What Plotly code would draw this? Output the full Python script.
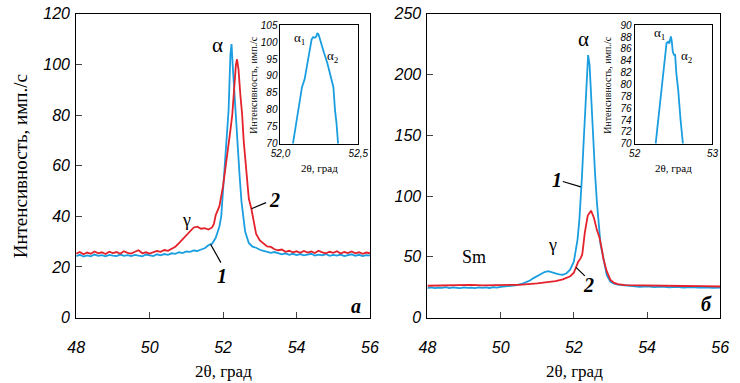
import plotly.graph_objects as go

# ---------------- data ----------------
# Panel a, curve 1 (blue)
a1_x = [48.0, 48.1, 48.2, 48.3, 48.4, 48.5, 48.6, 48.7, 48.8, 48.9, 49.0, 49.1, 49.2, 49.3, 49.4, 49.5,
        49.6, 49.7, 49.8, 49.9, 50.0, 50.1, 50.2, 50.3, 50.4, 50.5, 50.6, 50.7, 50.8, 50.9, 51.0, 51.1,
        51.2, 51.3, 51.4, 51.5, 51.6, 51.7, 51.8, 51.9, 51.95, 52.0, 52.05, 52.1, 52.15, 52.2, 52.23,
        52.26, 52.3, 52.35, 52.4, 52.45, 52.5, 52.55, 52.6, 52.7, 52.8, 52.9, 53.0, 53.1, 53.2, 53.3,
        53.4, 53.5, 53.6, 53.7, 53.8, 53.9, 54.0, 54.1, 54.2, 54.3, 54.4, 54.5, 54.6, 54.7, 54.8, 54.9,
        55.0, 55.1, 55.2, 55.3, 55.4, 55.5, 55.6, 55.7, 55.8, 55.9, 56.0]
a1_y = [24.3, 24.8, 24.1, 24.6, 24.2, 24.9, 24.4, 24.7, 24.2, 24.8, 24.5, 24.3, 24.9, 24.4, 24.7, 24.3,
        24.8, 24.5, 24.2, 24.9, 24.6, 24.3, 25.0, 24.6, 25.1, 24.8, 25.4, 25.2, 25.8, 25.5, 26.1, 26.0,
        26.5, 26.3, 26.9, 27.4, 28.6, 29.2, 31.5, 36.0, 40.0, 50.0, 58.0, 70.0, 82.0, 104.0, 108.0,
        100.0, 90.0, 82.0, 66.0, 56.0, 46.0, 39.0, 34.0, 29.5, 28.0, 27.6, 26.8, 26.4, 26.0, 25.6,
        25.9, 25.3, 25.0, 25.4, 24.8, 25.2, 24.7, 25.1, 24.6, 24.9, 25.2, 24.5, 24.9, 24.6, 25.1, 24.4,
        24.8, 24.5, 24.9, 24.3, 24.7, 25.0, 24.4, 24.8, 24.3, 24.7, 24.5]
# Panel a, curve 2 (red)
a2_x = [48.0, 48.1, 48.2, 48.3, 48.4, 48.5, 48.6, 48.7, 48.8, 48.9, 49.0, 49.1, 49.2, 49.3, 49.4, 49.5,
        49.6, 49.7, 49.8, 49.9, 50.0, 50.1, 50.2, 50.3, 50.4, 50.5, 50.6, 50.7, 50.8, 50.9, 51.0, 51.1,
        51.2, 51.3, 51.4, 51.5, 51.6, 51.7, 51.75, 51.8, 51.9, 52.0, 52.1, 52.2, 52.25, 52.3, 52.35,
        52.38, 52.42, 52.47, 52.52, 52.56, 52.6, 52.65, 52.7, 52.77, 52.85, 52.9, 53.0, 53.1, 53.2,
        53.3, 53.4, 53.5, 53.6, 53.7, 53.8, 53.9, 54.0, 54.1, 54.2, 54.3, 54.4, 54.5, 54.6, 54.7, 54.8,
        54.9, 55.0, 55.1, 55.2, 55.3, 55.4, 55.5, 55.6, 55.7, 55.8, 55.9, 56.0]
a2_y = [25.3, 25.9, 25.0, 25.7, 25.2, 26.1, 25.4, 25.8, 25.1, 26.0, 25.5, 25.9, 25.2, 26.2, 25.6, 25.3,
        26.0, 26.6, 25.4, 25.8, 25.3, 25.9, 26.3, 26.0, 26.7, 26.4, 27.3, 28.0, 29.4, 30.9, 32.6, 34.2,
        35.6, 35.9, 35.1, 35.3, 34.8, 35.6, 37.0, 40.5, 44.0, 52.0, 62.0, 74.0, 80.0, 92.0, 100.0,
        102.0, 98.0, 88.0, 80.0, 70.0, 63.0, 54.0, 47.0, 43.0, 37.0, 33.0, 30.5, 29.2, 28.1,
        27.9, 27.0, 26.6, 26.9, 26.0, 26.4, 25.8, 26.2, 25.6, 26.3, 25.7, 26.1, 25.5, 26.4, 25.8, 25.4,
        26.0, 25.6, 26.2, 25.3, 25.9, 25.5, 26.1, 25.4, 25.8, 25.2, 25.7, 25.4]
# Panel б, curve 1 (blue)
b1_x = [48.0, 48.1, 48.2, 48.3, 48.4, 48.5, 48.6, 48.7, 48.8, 48.9, 49.0, 49.1, 49.2, 49.3, 49.4, 49.5,
        49.6, 49.7, 49.8, 49.9, 50.0, 50.2, 50.4, 50.6, 50.8, 50.9, 51.0, 51.1, 51.2, 51.3, 51.4, 51.5,
        51.6, 51.7, 51.8, 51.9, 52.0, 52.05, 52.1, 52.15, 52.2, 52.22, 52.26, 52.3, 52.35, 52.39,
        52.43, 52.48, 52.53, 52.58, 52.63, 52.68, 52.73, 52.8, 52.85, 52.9, 53.0, 53.1, 53.2, 53.3,
        53.4, 53.6, 53.8, 54.0, 54.2, 54.4, 54.6, 54.8, 55.0, 55.2, 55.4, 55.6, 55.8, 56.0]
b1_y = [24.3, 24.9, 24.2, 24.7, 24.4, 25.0, 24.3, 24.8, 24.5, 24.2, 24.9, 24.4, 24.7, 24.3, 24.8, 24.5,
        24.9, 24.4, 25.0, 24.7, 25.3, 25.8, 26.6, 28.0, 30.5, 32.5, 34.3, 36.0, 37.5, 38.2, 37.6, 36.4,
        35.6, 35.3, 36.5, 39.5, 46.0, 54.0, 64.0, 80.0, 100.0, 115.0, 140.0, 165.0, 200.0, 216.0,
        208.0, 175.0, 150.0, 118.0, 95.0, 73.0, 60.0, 50.0, 41.0, 35.0, 29.5, 28.0, 27.2, 26.9,
        26.4, 26.0, 25.4, 25.7, 25.1, 25.5, 24.9, 25.3, 24.7, 25.2, 24.6, 25.0, 24.4, 24.6]
# Panel б, curve 2 (red)
b2_x = [48.0, 48.5, 49.0, 49.2, 49.5, 50.0, 50.5, 51.0, 51.3, 51.5, 51.7, 51.8, 51.9, 52.0, 52.06,
        52.12, 52.18, 52.23, 52.3, 52.38, 52.47, 52.55, 52.63, 52.7, 52.76, 52.81, 52.9, 53.0, 53.1,
        53.2, 53.4, 54.0, 54.5, 55.0, 55.5, 56.0]
b2_y = [26.2, 26.5, 27.2, 27.0, 26.6, 26.5, 27.0, 28.2, 29.2, 30.0, 31.5, 33.0, 34.0, 37.0, 42.0,
        46.0, 48.5, 52.0, 70.0, 84.0, 88.0, 82.0, 72.0, 66.0, 57.0, 48.0, 38.0, 31.0, 28.5,
        27.5, 26.8, 26.3, 26.4, 26.0, 25.9, 25.6]
# Inset of panel a
ia_x = [52.08, 52.10, 52.12, 52.138, 52.155, 52.17, 52.185, 52.2, 52.21, 52.22, 52.23, 52.237, 52.245,
        52.26, 52.28, 52.3, 52.31, 52.325, 52.34, 52.35, 52.36, 52.37]
ia_y = [70, 75.5, 82, 86.7, 89, 93.2, 97.5, 100.8, 101.5, 101.3, 101.7, 102.7, 102.2,
        99.5, 96.8, 94, 92.3, 89, 86.7, 80, 76, 70]
# Inset of panel б
ib_x = [52.27, 52.31, 52.35, 52.38, 52.41, 52.43, 52.445, 52.455, 52.466, 52.477, 52.49, 52.505,
        52.52, 52.535, 52.56, 52.59, 52.62]
ib_y = [70, 75, 79.5, 83.5, 87.0, 87.2, 86.9, 87.5, 88.1, 87.3, 85.5, 85.0, 85.0, 82, 79, 74, 70]

main_x_ticks = [48, 50, 52, 54, 56]
a_y_ticks = [0, 20, 40, 60, 80, 100, 120]
b_y_ticks = [0, 50, 100, 150, 200, 250]
ia_y_ticks = [70, 75, 80, 85, 90, 95, 100, 105]
ia_x_ticks = [52.0, 52.5]
ia_x_text = ["52,0", "52,5"]
ib_y_ticks = [70, 72, 74, 76, 78, 80, 82, 84, 86, 88, 90]
ib_x_ticks = [52, 53]

BLUE = "#1a9ee0"
RED = "#e3222b"
W, H = 740, 383
SERIF = "Liberation Serif"
SANS = "Liberation Sans"


def px(x):
    return x / W


def py(y):
    return 1 - y / H


fig = go.Figure()
lw = 1.8
fig.add_trace(go.Scatter(x=a1_x, y=a1_y, mode="lines", line=dict(color=BLUE, width=lw), xaxis="x", yaxis="y"))
fig.add_trace(go.Scatter(x=a2_x, y=a2_y, mode="lines", line=dict(color=RED, width=lw), xaxis="x", yaxis="y"))
fig.add_trace(go.Scatter(x=b1_x, y=b1_y, mode="lines", line=dict(color=BLUE, width=lw), xaxis="x2", yaxis="y2"))
fig.add_trace(go.Scatter(x=b2_x, y=b2_y, mode="lines", line=dict(color=RED, width=lw), xaxis="x2", yaxis="y2"))
fig.add_trace(go.Scatter(x=ia_x, y=ia_y, mode="lines", line=dict(color=BLUE, width=lw), xaxis="x3", yaxis="y3"))
fig.add_trace(go.Scatter(x=ib_x, y=ib_y, mode="lines", line=dict(color=BLUE, width=lw), xaxis="x4", yaxis="y4"))

main_tick_font = dict(family=SANS, size=16, color="black", style="italic")
inset_tick_font = dict(family=SANS, size=10, color="black", style="italic")
common = dict(showline=True, mirror=True, linecolor="black", linewidth=1, showgrid=False, zeroline=False)

fig.update_layout(
    width=W, height=H, margin=dict(l=0, r=0, t=0, b=0),
    paper_bgcolor="white", plot_bgcolor="white", showlegend=False,
    font=dict(family=SERIF),
    xaxis=dict(domain=[px(68), px(370)], range=[48, 56], tickvals=main_x_ticks, ticks="inside", ticklen=6,
               tickfont=main_tick_font, ticklabelstandoff=15, anchor="y", **common),
    yaxis=dict(domain=[py(324), py(6)], range=[0, 120], tickvals=a_y_ticks, ticks="inside", ticklen=6,
               tickfont=main_tick_font, ticklabelstandoff=2, anchor="x", **common),
    xaxis2=dict(domain=[px(429), px(730)], range=[48, 56], tickvals=main_x_ticks, ticks="inside", ticklen=6,
                tickfont=main_tick_font, ticklabelstandoff=15, anchor="y2", **common),
    yaxis2=dict(domain=[py(324), py(6)], range=[0, 250], tickvals=b_y_ticks, ticks="inside", ticklen=6,
                tickfont=main_tick_font, ticklabelstandoff=2, anchor="x2", **common),
    xaxis3=dict(domain=[px(278), px(358)], range=[52.0, 52.5], tickvals=ia_x_ticks, ticktext=ia_x_text, ticks="",
                tickfont=inset_tick_font, anchor="y3", **common),
    yaxis3=dict(domain=[py(142), py(18)], range=[70, 105], tickvals=ia_y_ticks, ticks="",
                tickfont=inset_tick_font, anchor="x3", **common),
    xaxis4=dict(domain=[px(642), px(722)], range=[52, 53], tickvals=ib_x_ticks, ticks="",
                tickfont=inset_tick_font, anchor="y4", **common),
    yaxis4=dict(domain=[py(142), py(18)], range=[70, 90], tickvals=ib_y_ticks, ticks="",
                tickfont=inset_tick_font, anchor="x4", **common),
)

ann = []


def text(x, y, t, xref, yref, size, bold=False, italic=False, angle=0):
    f = dict(family=SERIF, size=size, color="black")
    if bold:
        f["weight"] = "bold"
    if italic:
        f["style"] = "italic"
    ann.append(dict(x=x, y=y, xref=xref, yref=yref, text=t, showarrow=False, textangle=angle,
                    font=f, xanchor="center", yanchor="middle"))


# axis titles
text(px(11), py(166), "Интенсивность, имп./с", "paper", "paper", 19, angle=-90)
text(px(219), py(380), "2θ, град", "paper", "paper", 17)
text(px(580), py(380), "2θ, град", "paper", "paper", 17)
text(px(250), py(80), "Интенсивность, имп./с", "paper", "paper", 10, angle=-90)
text(px(318), py(167), "2θ, град", "paper", "paper", 11)
text(px(614), py(80), "Интенсивность, имп./с", "paper", "paper", 10, angle=-90)
text(px(682), py(167), "2θ, град", "paper", "paper", 11)

# panel a labels
text(51.85, 107.5, "α", "x", "y", 21)
text(51.0, 38.7, "γ", "x", "y", 18)
text(53.40, 46.5, "2", "x", "y", 20, bold=True, italic=True)
text(51.98, 16.5, "1", "x", "y", 20, bold=True, italic=True)
text(55.63, 4.75, "а", "x", "y", 20, bold=True, italic=True)
# panel б labels
text(52.26, 229, "α", "x2", "y2", 21)
text(51.41, 59.5, "γ", "x2", "y2", 18)
text(49.28, 50, "Sm", "x2", "y2", 18)
text(51.53, 113, "1", "x2", "y2", 20, bold=True, italic=True)
text(52.41, 27, "2", "x2", "y2", 20, bold=True, italic=True)
text(55.63, 11.2, "б", "x2", "y2", 20, bold=True, italic=True)
# inset labels
text(52.124, 101.2, "α<sub>1</sub>", "x3", "y3", 13)
text(52.335, 95.9, "α<sub>2</sub>", "x3", "y3", 13)
text(52.315, 88.66, "α<sub>1</sub>", "x4", "y4", 13)
text(52.676, 84.8, "α<sub>2</sub>", "x4", "y4", 13)

fig.update_layout(annotations=ann)

shapes = [
    dict(type="line", xref="x", yref="y", x0=52.77, y0=43.0, x1=53.17, y1=45.4, line=dict(color="black", width=1.2)),
    dict(type="line", xref="x", yref="y", x0=51.66, y0=29.0, x1=51.94, y1=21.7, line=dict(color="black", width=1.2)),
    dict(type="line", xref="x2", yref="y2", x0=51.70, y0=112, x1=52.19, y1=107.6, line=dict(color="black", width=1.2)),
    dict(type="line", xref="x2", yref="y2", x0=52.06, y0=41.3, x1=52.30, y1=34.3, line=dict(color="black", width=1.2)),
]
fig.update_layout(shapes=shapes)

fig.write_html("out.html", config={"displayModeBar": False},
               post_script="document.body.style.margin='0';document.body.style.overflow='hidden';")
